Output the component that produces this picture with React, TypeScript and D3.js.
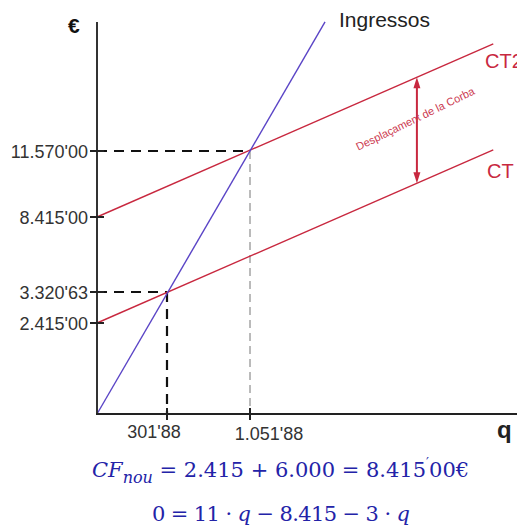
import * as d3 from 'd3'
import React from 'react'

// breakpoints of the (schematic) axes
const qBreaks = [0, 301.88, 1051.88]
const euroBreaks = [0, 2415, 3320.63, 8415, 11570]
const qTickValues = [301.88, 1051.88]
const qTickLabels = ["301'88", "1.051'88"]
const euroTickValues = [11570, 8415, 3320.63, 2415]
const euroTickLabels = ["11.570'00", "8.415'00", "3.320'63", "2.415'00"]

// lines as [q, €] pairs
const ingressos: [number, number][] = [[0, 0], [1730, 17740]]
const ct: [number, number][] = [[0, 2415], [3250, 11620]]
const ct2: [number, number][] = [[0, 8415], [3250, 16690]]
const qMax = 3470
const euroTop = 17740
const arrowQ = 2560

const RED = '#c8283f'
const BLUE = '#5a44c6'
const MATH = '#2323a8'

export default function App() {
  const x = d3.scaleLinear().domain(qBreaks).range([97, 167, 250])
  const y = d3.scaleLinear().domain(euroBreaks).range([414, 323, 292, 217, 151])

  const line = d3
    .line<[number, number]>()
    .x(d => x(d[0]))
    .y(d => y(d[1]))

  // pixel y of a straight (two point) line at a given q
  const yAt = (pts: [number, number][], q: number) => {
    const t = (x(q) - x(pts[0][0])) / (x(pts[1][0]) - x(pts[0][0]))
    return y(pts[0][1]) + t * (y(pts[1][1]) - y(pts[0][1]))
  }

  const ax = x(arrowQ)
  const aTop = yAt(ct2, arrowQ)
  const aBot = yAt(ct, arrowQ)
  const x0 = x(0)
  const y0 = y(0)
  const font = 'Liberation Sans, Arial, sans-serif'

  return (
    <svg width={517} height={526} style={{ position: 'absolute', left: 0, top: 0 }} fontFamily={font}>
      <rect width={517} height={526} fill="#fff" />

      {/* guide lines */}
      <line x1={x0} x2={x(qTickValues[1])} y1={y(11570)} y2={y(11570)} stroke="#111" strokeWidth={2} strokeDasharray="10,7" />
      <line x1={x(qTickValues[1])} x2={x(qTickValues[1])} y1={y(11570)} y2={y0} stroke="#777" strokeWidth={1} strokeDasharray="8,5" />
      <line x1={x0} x2={x(qTickValues[0])} y1={y(3320.63)} y2={y(3320.63)} stroke="#111" strokeWidth={2} strokeDasharray="10,7" />
      <line x1={x(qTickValues[0])} x2={x(qTickValues[0])} y1={y(3320.63)} y2={y0} stroke="#111" strokeWidth={2.2} strokeDasharray="10,7" />

      {/* curves */}
      <path d={line(ct) ?? ''} fill="none" stroke={RED} strokeWidth={1.4} />
      <path d={line(ct2) ?? ''} fill="none" stroke={RED} strokeWidth={1.4} />
      <path d={line(ingressos) ?? ''} fill="none" stroke={BLUE} strokeWidth={1.4} />

      {/* axes */}
      <line x1={x0} x2={x0} y1={y(euroTop)} y2={y0} stroke="#333" strokeWidth={2} />
      <line x1={x0 - 1} x2={x(qMax)} y1={y0} y2={y0} stroke="#222" strokeWidth={2} />
      {euroTickValues.map((v, i) => (
        <g key={v}>
          <line x1={x0 - 7} x2={x0 + 7} y1={y(v)} y2={y(v)} stroke="#222" strokeWidth={2} />
          <text x={x0 - 9} y={y(v) + 6.5} textAnchor="end" fontSize={18} fill="#333">
            {euroTickLabels[i]}
          </text>
        </g>
      ))}
      {qTickValues.map((v, i) => (
        <g key={v}>
          <line x1={x(v)} x2={x(v)} y1={y0 - 6} y2={y0 + 6} stroke="#222" strokeWidth={2} />
          <text x={x(v) + (i === 0 ? -13 : 19)} y={y0 + (i === 0 ? 24 : 26)} textAnchor="middle" fontSize={18} fill="#333">
            {qTickLabels[i]}
          </text>
        </g>
      ))}
      <text x={68} y={33} fontSize={21} fontWeight="bold" fill="#111">€</text>
      <text x={497} y={438} fontSize={24} fontWeight="bold" fill="#222">q</text>

      {/* labels */}
      <text x={339} y={27} fontSize={21} fill="#222">Ingressos</text>
      <text x={485} y={68} fontSize={20} fill={RED}>CT2</text>
      <text x={487} y={178} fontSize={20} fill={RED}>CT</text>

      {/* shift arrow */}
      <line x1={ax} x2={ax} y1={aTop + 9} y2={aBot - 9} stroke={RED} strokeWidth={2} />
      <path d={`M${ax},${aTop} L${ax - 3.5},${aTop + 11} L${ax + 3.5},${aTop + 11} Z`} fill={RED} />
      <path d={`M${ax},${aBot} L${ax - 3.5},${aBot - 11} L${ax + 3.5},${aBot - 11} Z`} fill={RED} />
      <text
        transform={`translate(${ax},${(aTop + aBot) / 2 - 8}) rotate(-26)`}
        textAnchor="middle"
        fontSize={11}
        fill="#cc3a50"
      >
        Desplaçament de la Corba
      </text>

      {/* formulas */}
      <g fill={MATH} fontFamily="DejaVu Serif, serif" fontSize={21}>
        <text x={92} y={477}>
          <tspan fontStyle="italic">CF</tspan>
          <tspan fontStyle="italic" fontSize={16} dy={6}>nou</tspan>
          <tspan dy={-6}> = 2.415 + 6.000 = 8.415</tspan>
          <tspan fontSize={13} dy={-10}>′</tspan>
          <tspan dy={10}>00€</tspan>
        </text>
        <text x={152} y={521} textLength={258} lengthAdjust="spacing">
          <tspan>0 = 11 · </tspan>
          <tspan fontStyle="italic">q</tspan>
          <tspan> − 8.415 − 3 · </tspan>
          <tspan fontStyle="italic">q</tspan>
        </text>
      </g>
    </svg>
  )
}
